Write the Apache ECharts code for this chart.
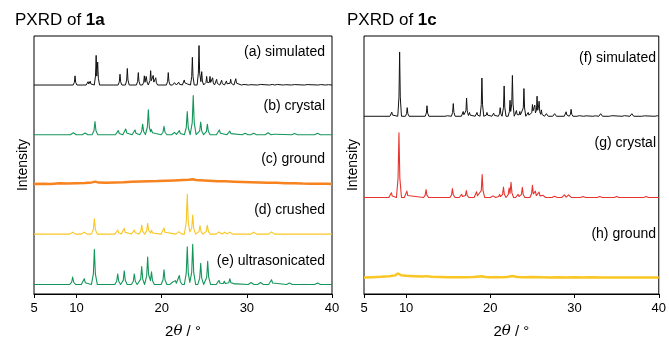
<!DOCTYPE html>
<html lang="en">
<head>
    <meta charset="UTF-8">
    <script type="text/javascript" src="https://cdn.jsdelivr.net/npm/echarts@6/dist/echarts.min.js"></script>
    <style>
        html, body { margin: 0; padding: 0; background: #fff; }
    </style>
</head>
<body>
    <div id="PxrdChart" style="width: 669px;height: 344px;"></div>
</body>

<script>
    // tick labels on 2theta axis
    var xTicks = [5, 10, 20, 30, 40];

    // peak lists [2theta, height]
    var simA = [[9.82,9.6],[11.35,3.5],[11.6,4],[12.3,31],[12.48,24],[15.1,11.3],[15.96,17.3],[17.25,13],[17.96,9.6],[18.2,11],[18.7,15],[19.0,10],[19.3,7.6],[20.77,13],[21.5,2.5],[22.0,3],[22.65,5.3],[22.93,3.6],[23.6,29],[24.38,41.3],[24.7,14],[25.28,9],[25.67,9],[25.98,7.6],[26.45,6],[27.04,5],[27.6,4.3],[28.1,6],[28.7,6.6],[29.58,2],[30.4,1.2],[31.5,2],[32.9,2],[33.5,2],[34.5,1.2],[35.5,1.5],[37.0,1.5],[38.6,1.5],[39.5,1.2]];
    var crystalB = [[9.62,2],[11.0,1.7],[12.16,13.7],[14.9,4.3],[15.77,6],[16.86,5],[17.76,11],[18.43,26],[18.8,6.7],[20.27,8.7],[21.5,2.5],[22.07,4.3],[23.0,24.3],[23.7,41],[24.58,13.3],[25.36,11],[26.77,5],[28.0,3.7],[29.8,1.5],[30.8,1.5],[32.5,2],[33.3,1.5],[35.6,1.3],[38.3,1.5]];
    var groundC = [[5,0],[6,0.5],[7,0.2],[8,0.8],[9,0.6],[10,1.0],[11,1.2],[11.8,1.8],[12.2,2.6],[12.6,1.6],[13.5,1.3],[14.5,1.8],[15.5,1.9],[16.5,2.4],[17.5,2.7],[18.5,3.0],[19.5,3.2],[20.5,3.6],[21.5,3.9],[22.5,4.3],[23.2,4.6],[23.6,5.0],[24,4.4],[24.5,4.1],[25.5,3.6],[26.5,3.1],[27.5,2.9],[28.5,2.5],[29.5,2.2],[30.5,2.0],[31.5,1.7],[32.5,1.5],[33.5,1.3],[34.5,1.0],[35.5,0.9],[36.5,0.6],[37.5,0.5],[38.5,0.3],[39.5,0.4],[40,0.2]];
    var crushedD = [[9.54,2],[10.9,2],[12.09,16],[14.83,4.3],[15.6,6],[16.78,4.3],[17.65,9.3],[18.35,11.3],[18.8,4],[20.27,6.3],[22.0,2.5],[23.0,41.7],[23.64,20],[24.5,9],[25.36,9.3],[26.73,2.3],[27.4,2],[28.0,2],[30.8,2],[32.9,2.3]];
    var ultraE = [[9.54,7.7],[10.9,6],[12.09,36.7],[14.83,11],[15.6,14.3],[16.78,11],[17.65,18.7],[18.35,28.7],[18.8,13.3],[20.27,15.3],[21.3,3],[21.6,4],[22.07,9.3],[23.0,39.3],[23.64,42],[24.58,22],[25.4,24.3],[26.73,4.3],[27.35,3.3],[28.0,6],[28.7,2],[30.5,2],[31.6,2],[32.9,5],[35.0,1.5],[38.3,1.5]];

    var simF = [[8.3,4.3],[9.23,67.3],[10.13,9],[12.48,11],[14.83,1.7],[15.6,13.3],[16.78,5],[17.18,19],[17.53,4],[18.42,4],[19.0,40],[19.6,4],[20.4,3.3],[21.17,9],[21.64,31.7],[22.34,16.7],[22.62,42.7],[23.1,6],[23.5,5],[23.99,29],[24.5,4],[25.0,12.3],[25.28,11.7],[25.55,21],[25.79,15.7],[26.06,6.7],[26.65,2.7],[27.63,2.7],[29.0,4.7],[29.59,7.3],[30.5,2],[31.3,1.5],[32.4,1.5],[33.1,2.7],[34.36,2],[35.85,2],[36.8,2.7],[38.2,1.5],[39.76,2]];
    var crystalG = [[8.25,5],[9.15,67.7],[10.09,6.7],[12.37,8.3],[15.5,9.3],[16.6,3.3],[17.15,7.3],[18.37,6],[19.03,24],[20.32,1.7],[21.1,3.3],[21.56,11],[22.23,10],[22.46,16],[23.3,3.3],[23.8,10.7],[25.0,12.7],[25.35,6.7],[25.79,5.7],[26.26,2.3],[27.63,1.3],[28.8,2.7],[29.3,2.7],[31.0,1],[33.0,1],[35,1],[38.5,1]];
    var groundH = [[5,0.3],[6,0.6],[7,1.0],[8,1.6],[8.7,2.5],[9.05,4.5],[9.4,2.6],[10,2.0],[11,1.6],[12,1.2],[12.4,1.7],[13,1.0],[14,0.7],[15,0.5],[16,0.4],[17,0.5],[18,0.7],[19,1.6],[19.4,0.8],[20,0.6],[21,0.5],[22,0.8],[22.6,1.8],[23.2,0.9],[24,0.6],[25,0.7],[26,0.5],[27,0.3],[28,0.5],[29,0.3],[30,0.4],[31,0.2],[32,0.4],[33,0.3],[34,0.2],[35,0.3],[36,0.2],[37,0.3],[38,0.2],[39,0.3],[40,0.2]];

    // stacking offsets
    var leftOffsets = [218.7, 166.7, 115, 62.7, 10];
    var rightOffsets = [186, 101, 17];

    var FONT = '"Liberation Sans", Arial, sans-serif';

    // peaks -> line points (narrow spikes)
    function FPeaks(peaks, w, offset) {
        var xs = [5, 40];
        peaks.forEach(function (p) { xs.push(p[0] - w, p[0] - w * 0.35, p[0], p[0] + w * 0.35, p[0] + w); });
        xs = xs.filter(function (x) { return x >= 5 && x <= 40; }).sort(function (a, b) { return a - b; });
        var out = [];
        xs.forEach(function (x) {
            var y = 0;
            peaks.forEach(function (p) {
                var d = Math.abs(x - p[0]) / w;
                // sharp tip, wider foot
                var t = d >= 1 ? 0 : (d <= 0.35 ? p[1] * (1 - d / 0.35 * 0.7) : p[1] * 0.3 * (1 - (d - 0.35) / 0.65));
                if (t > y) y = t;
            });
            out.push([x, y + offset]);
        });
        return out;
    }
    function FShift(pts, offset) {
        return pts.map(function (p) { return [p[0], p[1] + offset]; });
    }

    function FXAxis(idx) {
        return {
            type: 'value', gridIndex: idx, min: 5, max: 40, interval: 5,
            axisLine: {show: true, lineStyle: {color: '#000', width: 1}},
            axisTick: {show: true, inside: false, length: 4, customValues: xTicks, lineStyle: {color: '#000'}},
            axisLabel: {customValues: xTicks, color: '#000', fontSize: 13, margin: 8, fontFamily: FONT},
            splitLine: {show: false},
            name: '{n|2}{t|θ}{n| / °}', nameLocation: 'middle', nameGap: 30,
            nameTextStyle: {rich: {
                n: {fontSize: 15, color: '#000', fontFamily: FONT},
                t: {fontSize: 15, color: '#000', fontStyle: 'italic', fontFamily: '"DejaVu Serif", serif'}
            }}
        };
    }
    function FYAxis(idx) {
        return {
            type: 'value', gridIndex: idx, min: 0, max: 270,
            axisLine: {show: false}, axisTick: {show: false}, axisLabel: {show: false}, splitLine: {show: false},
            name: 'Intensity', nameLocation: 'middle', nameGap: 4,
            nameTextStyle: {fontSize: 14, color: '#000', fontFamily: FONT}
        };
    }
    function FLine(data, idx, color, width) {
        return {
            type: 'line', xAxisIndex: idx, yAxisIndex: idx, data: data,
            symbol: 'none', silent: true, animation: false,
            lineStyle: {color: color, width: width, join: 'round'}
        };
    }
    function FLabel(text, x, y) {
        return {type: 'text', x: x, y: y, style: {text: text, fill: '#000', font: '14px ' + FONT, textAlign: 'right', textVerticalAlign: 'middle'}};
    }

    var GREEN = '#14965a', ORANGE = '#f7821e', YELLOW = '#f9c623', RED = '#e8342e', BLACK = '#111';
    var titleStyle = {fontSize: 17, fontWeight: 'normal', color: '#000', fontFamily: FONT, rich: {b: {fontSize: 17, fontWeight: 'bold', color: '#000', fontFamily: FONT}}};

    var PxrdChart = echarts.init(document.getElementById("PxrdChart"));
    PxrdChart.setOption({
        animation: false,
        title: [
            {text: 'PXRD of {b|1a}', left: 15, top: 12, padding: 0, textStyle: titleStyle},
            {text: 'PXRD of {b|1c}', left: 347, top: 12, padding: 0, textStyle: titleStyle}
        ],
        grid: [
            {left: 34, top: 36, width: 298, height: 270, show: true, borderColor: '#000', borderWidth: 1},
            {left: 364, top: 36, width: 298, height: 270, show: true, borderColor: '#000', borderWidth: 1}
        ],
        xAxis: [FXAxis(0), FXAxis(1)],
        yAxis: [FYAxis(0), FYAxis(1)],
        series: [
            FLine(FPeaks(simA, 0.22, leftOffsets[0]), 0, BLACK, 1),
            FLine(FPeaks(crystalB, 0.34, leftOffsets[1]), 0, GREEN, 1.1),
            FLine(FShift(groundC, leftOffsets[2]), 0, ORANGE, 2.5),
            FLine(FPeaks(crushedD, 0.34, leftOffsets[3]), 0, YELLOW, 1.1),
            FLine(FPeaks(ultraE, 0.34, leftOffsets[4]), 0, GREEN, 1.1),
            FLine(FPeaks(simF, 0.22, rightOffsets[0]), 1, BLACK, 1),
            FLine(FPeaks(crystalG, 0.3, rightOffsets[1]), 1, RED, 1.1),
            FLine(FShift(groundH, rightOffsets[2]), 1, YELLOW, 2.5)
        ],
        graphic: [
            FLabel('(a) simulated', 325, 52),
            FLabel('(b) crystal', 325, 106),
            FLabel('(c) ground', 325, 159),
            FLabel('(d) crushed', 325, 210),
            FLabel('(e) ultrasonicated', 325, 261),
            FLabel('(f) simulated', 656, 58),
            FLabel('(g) crystal', 656, 143),
            FLabel('(h) ground', 656, 234)
        ]
    });
</script>
</html>
